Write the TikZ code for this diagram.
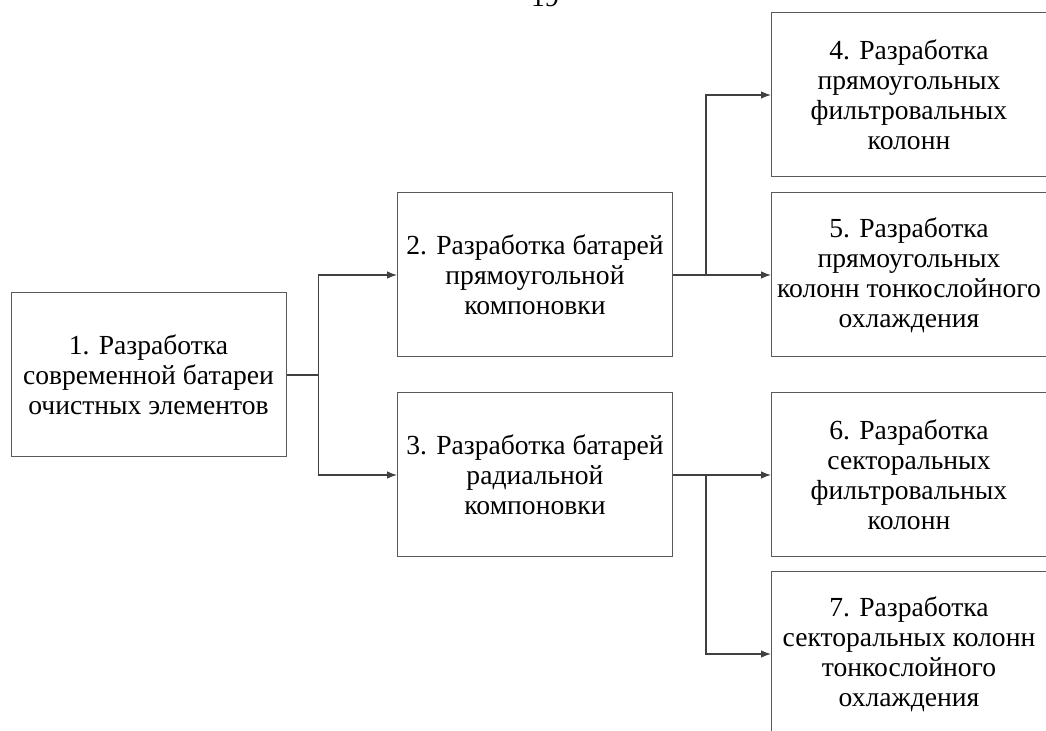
\documentclass[tikz,border=0pt]{standalone}
\usepackage{fontspec}
\setmainfont{Liberation Serif}
\usepackage{tikz}
\usetikzlibrary{arrows.meta, positioning}
\definecolor{boxline}{HTML}{5A5A5A}
\definecolor{flowline}{HTML}{404040}
\tikzset{
  stage/.style={draw=boxline, fill=white, line width=0.5pt, align=center, inner sep=0pt,
    minimum width=137.5pt, minimum height=82pt, font=\fontsize{13.8}{15}\selectfont},
  flow/.style={-{Latex[length=5pt, width=3.8pt]}, draw=flowline, line width=0.65pt}
}
\begin{document}
\begin{tikzpicture}[x=0.5pt, y=-0.5pt]
\useasboundingbox (0,0) rectangle (1046,731);
\node[anchor=base, font=\fontsize{13.8}{15}\selectfont] (page) at (545,7) {19};
\node[stage] (n1) at (148.5,375) {1. Разработка\\современной батареи\\очистных элементов};
\node[stage] (n2) at (535,275) {2. Разработка батарей\\прямоугольной\\компоновки};
\node[stage, below=17.5pt of n2] (n3) {3. Разработка батарей\\радиальной\\компоновки};
\node[stage, right=49pt of n2] (n5) {5. Разработка\\прямоугольных\\колонн тонкослойного\\охлаждения};
\node[stage, above=7.5pt of n5] (n4) {4. Разработка\\прямоугольных\\фильтровальных\\колонн};
\node[stage, below=17.5pt of n5] (n6) {6. Разработка\\секторальных\\фильтровальных\\колонн};
\node[stage, below=7pt of n6] (n7) {7. Разработка\\секторальных колонн\\тонкослойного\\охлаждения};
\draw[flow] (n1.east) -- ++(32,0) |- (n2.west);
\draw[flow] (n1.east) -- ++(32,0) |- (n3.west);
\draw[flow] (n2.east) -- ++(33,0) |- (n4.west);
\draw[flow] (n2.east) -- (n5.west);
\draw[flow] (n3.east) -- (n6.west);
\draw[flow] (n3.east) -- ++(33,0) |- (n7.west);
\end{tikzpicture}
\end{document}
